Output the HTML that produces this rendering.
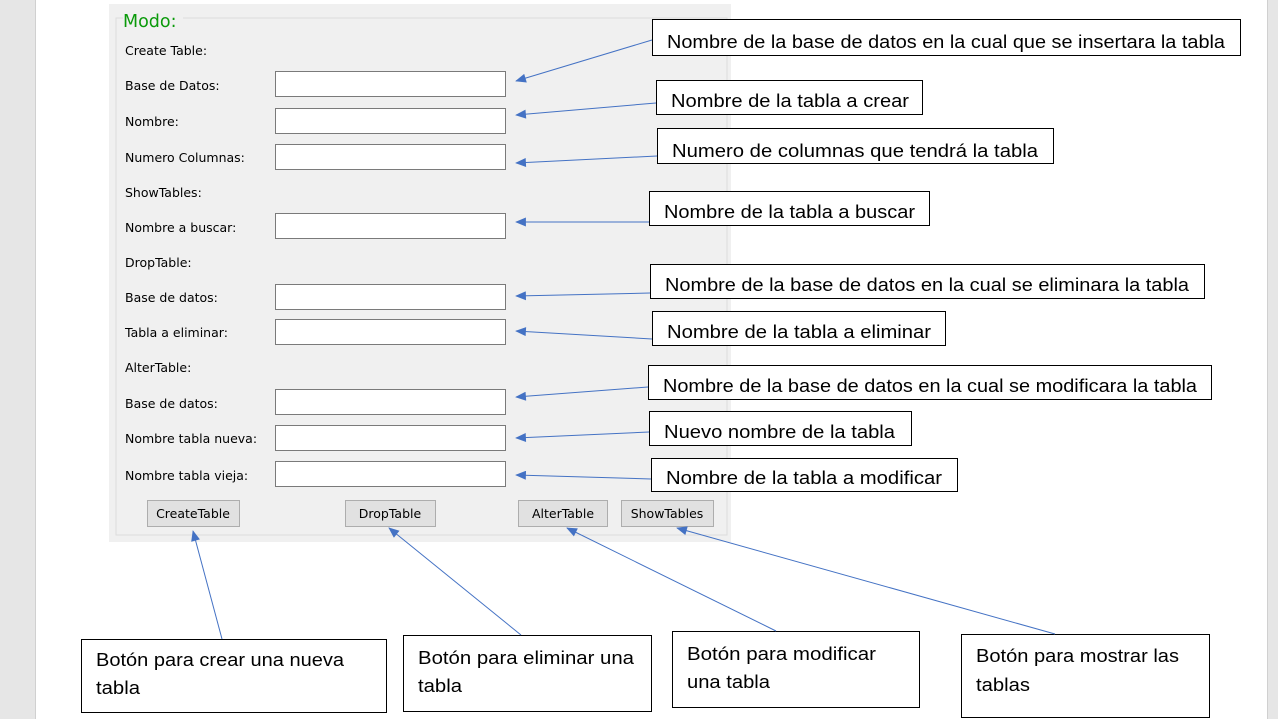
<!DOCTYPE html>
<html><head><meta charset="utf-8"><style>
html,body{margin:0;padding:0;background:#fff;}
svg{display:block}
.l{font-family:"DejaVu Sans","Liberation Sans",sans-serif;font-size:12.5px;fill:#000}
.c{font-family:"Liberation Sans",sans-serif;font-size:18px;fill:#000}
.b{font-family:"DejaVu Sans","Liberation Sans",sans-serif;font-size:12.5px;fill:#000;text-anchor:middle}
</style></head><body>
<svg width="1278" height="719" viewBox="0 0 1278 719" xmlns="http://www.w3.org/2000/svg">
<defs>
<marker id="a" viewBox="0 0 12 10" refX="11" refY="5" markerWidth="12" markerHeight="9" markerUnits="userSpaceOnUse" orient="auto">
<path d="M0,0 L12,5 L0,10 z" fill="#4472c4"/></marker>
</defs>
<rect x="0" y="0" width="36" height="719" fill="#e6e6e6"/>
<rect x="35" y="0" width="1" height="719" fill="#d0d0d0"/>
<rect x="1268" y="0" width="10" height="719" fill="#e6e6e6"/>
<rect x="1267" y="0" width="1" height="719" fill="#d0d0d0"/>
<rect x="109" y="4" width="622" height="538" fill="#f0f0f0"/>
<path d="M123,18 H116 V535 H727 V18 H183" fill="none" stroke="#dcdcdc" stroke-width="1"/>
<text x="123" y="27" style="font-family:'DejaVu Sans',sans-serif;font-size:17.5px;fill:#0a9a0a">Modo:</text>
<g class="l">
<text x="125" y="55">Create Table:</text>
<text x="125" y="90">Base de Datos:</text>
<text x="125" y="126">Nombre:</text>
<text x="125" y="162">Numero Columnas:</text>
<text x="125" y="197">ShowTables:</text>
<text x="125" y="232">Nombre a buscar:</text>
<text x="125" y="267">DropTable:</text>
<text x="125" y="302">Base de datos:</text>
<text x="125" y="337">Tabla a eliminar:</text>
<text x="125" y="372">AlterTable:</text>
<text x="125" y="408">Base de datos:</text>
<text x="125" y="443">Nombre tabla nueva:</text>
<text x="125" y="480">Nombre tabla vieja:</text>
</g>
<g fill="#fff" stroke="#7a7a7a">
<rect x="275.5" y="71.5" width="230" height="25"/>
<rect x="275.5" y="108.5" width="230" height="25"/>
<rect x="275.5" y="144.5" width="230" height="25"/>
<rect x="275.5" y="213.5" width="230" height="25"/>
<rect x="275.5" y="284.5" width="230" height="25"/>
<rect x="275.5" y="319.5" width="230" height="25"/>
<rect x="275.5" y="389.5" width="230" height="25"/>
<rect x="275.5" y="425.5" width="230" height="25"/>
<rect x="275.5" y="461.5" width="230" height="25"/>
</g>
<g fill="#e1e1e1" stroke="#adadad">
<rect x="147.5" y="500.5" width="92" height="26"/>
<rect x="345.5" y="500.5" width="90" height="26"/>
<rect x="518.5" y="500.5" width="89" height="26"/>
<rect x="621.5" y="500.5" width="92" height="26"/>
</g>
<g class="b">
<text x="193" y="518">CreateTable</text>
<text x="390" y="518">DropTable</text>
<text x="563" y="518">AlterTable</text>
<text x="667" y="518">ShowTables</text>
</g>
<g fill="#fff" stroke="#000" stroke-width="1">
<rect x="652.5" y="19.5" width="588" height="36"/>
<rect x="656.5" y="80.5" width="266" height="34"/>
<rect x="657.5" y="128.5" width="396" height="35"/>
<rect x="649.5" y="191.5" width="280" height="34"/>
<rect x="650.5" y="264.5" width="554" height="34"/>
<rect x="652.5" y="311.5" width="293" height="34"/>
<rect x="648.5" y="365.5" width="563" height="34"/>
<rect x="649.5" y="411.5" width="262" height="34"/>
<rect x="651.5" y="458.5" width="306" height="33"/>
<rect x="81.5" y="639.5" width="305" height="73"/>
<rect x="403.5" y="635.5" width="248" height="76"/>
<rect x="672.5" y="631.5" width="247" height="76"/>
<rect x="961.5" y="634.5" width="248" height="83"/>
</g>
<g class="c">
<text x="667" y="48" textLength="558" lengthAdjust="spacingAndGlyphs">Nombre de la base de datos en la cual que se insertara la tabla</text>
<text x="671" y="107" textLength="238" lengthAdjust="spacingAndGlyphs">Nombre de la tabla a crear</text>
<text x="672" y="157" textLength="366" lengthAdjust="spacingAndGlyphs">Numero de columnas que tendrá la tabla</text>
<text x="664" y="218" textLength="251" lengthAdjust="spacingAndGlyphs">Nombre de la tabla a buscar</text>
<text x="665" y="291" textLength="524" lengthAdjust="spacingAndGlyphs">Nombre de la base de datos en la cual se eliminara la tabla</text>
<text x="667" y="338" textLength="264" lengthAdjust="spacingAndGlyphs">Nombre de la tabla a eliminar</text>
<text x="663" y="392" textLength="534" lengthAdjust="spacingAndGlyphs">Nombre de la base de datos en la cual se modificara la tabla</text>
<text x="664" y="438" textLength="231" lengthAdjust="spacingAndGlyphs">Nuevo nombre de la tabla</text>
<text x="666" y="484" textLength="276" lengthAdjust="spacingAndGlyphs">Nombre de la tabla a modificar</text>
<text x="96" y="666" textLength="248" lengthAdjust="spacingAndGlyphs">Botón para crear una nueva</text>
<text x="96" y="694" textLength="44" lengthAdjust="spacingAndGlyphs">tabla</text>
<text x="418" y="664" textLength="216" lengthAdjust="spacingAndGlyphs">Botón para eliminar una</text>
<text x="418" y="692" textLength="44" lengthAdjust="spacingAndGlyphs">tabla</text>
<text x="687" y="660" textLength="189" lengthAdjust="spacingAndGlyphs">Botón para modificar</text>
<text x="687" y="688" textLength="83" lengthAdjust="spacingAndGlyphs">una tabla</text>
<text x="976" y="662" textLength="203" lengthAdjust="spacingAndGlyphs">Botón para mostrar las</text>
<text x="976" y="691" textLength="54" lengthAdjust="spacingAndGlyphs">tablas</text>
</g>
<g stroke="#4472c4" stroke-width="1" marker-end="url(#a)">
<line x1="652" y1="40" x2="516" y2="81"/>
<line x1="656" y1="103" x2="516" y2="115"/>
<line x1="657" y1="156" x2="516" y2="163"/>
<line x1="649" y1="222" x2="516" y2="222"/>
<line x1="650" y1="293" x2="516" y2="296"/>
<line x1="652" y1="339" x2="516" y2="331"/>
<line x1="648" y1="387" x2="516" y2="397"/>
<line x1="649" y1="432" x2="516" y2="438"/>
<line x1="651" y1="479" x2="516" y2="475"/>
<line x1="222" y1="639" x2="193" y2="531"/>
<line x1="521" y1="635" x2="389" y2="528"/>
<line x1="776" y1="631" x2="567" y2="528"/>
<line x1="1055" y1="634" x2="677" y2="528"/>
</g>
</svg>
</body></html>
